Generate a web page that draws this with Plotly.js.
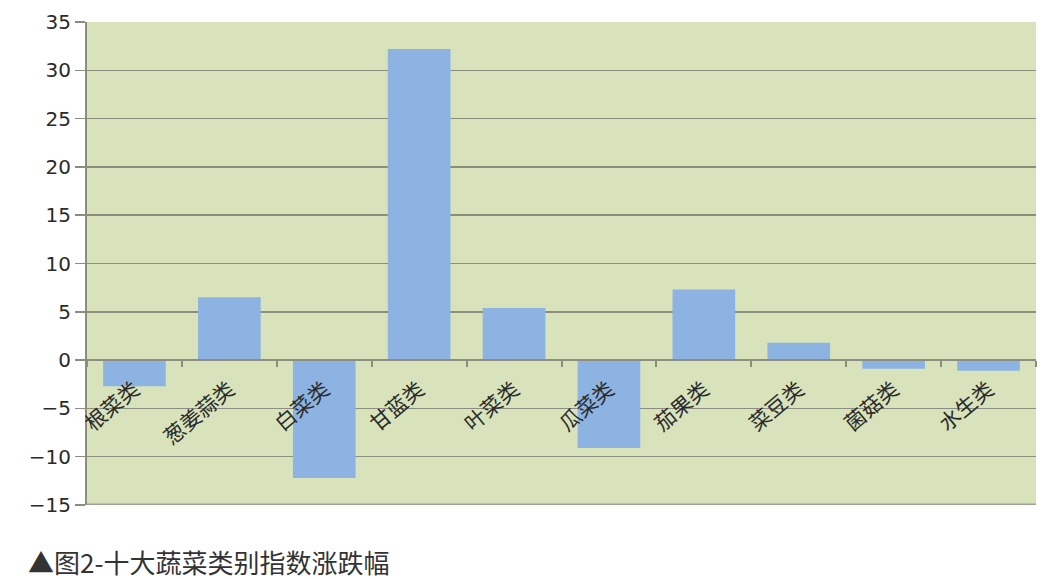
<!DOCTYPE html>
<html>
<head>
<meta charset="utf-8">
<script src="https://cdn.plot.ly/plotly-3.0.1.min.js"></script>
<style>html,body{margin:0;padding:0;background:#fff;}#chart{width:1045px;height:579px;}</style>
</head>
<body>
<div id="chart"></div>
<script>
const categories = ["根菜类", "葱姜蒜类", "白菜类", "甘蓝类", "叶菜类", "瓜菜类", "茄果类", "菜豆类", "菌菇类", "水生类"];
const changeValues = [-2.7, 6.5, -12.2, 32.2, 5.4, -9.1, 7.3, 1.8, -0.9, -1.1];
const yTickValues = [-15, -10, -5, 0, 5, 10, 15, 20, 25, 30, 35];
const yTickLabels = ["−15", "−10", "−5", "0", "5", "10", "15", "20", "25", "30", "35"];
const captionText = "▲图2-十大蔬菜类别指数涨跌幅";

const trace = {
  type: "bar",
  x: categories,
  y: changeValues,
  marker: { color: "#8db3e2", line: { width: 0 } },
  hoverinfo: "x+y"
};

const layout = {
  width: 1045,
  height: 579,
  margin: { l: 87, r: 9, t: 22, b: 74 },
  paper_bgcolor: "#ffffff",
  plot_bgcolor: "#d8e3bc",
  showlegend: false,
  bargap: 0.34,
  font: { family: "DejaVu Sans, sans-serif", color: "#222" },
  xaxis: {
    type: "category",
    anchor: "free",
    position: 0.3,
    showline: true,
    linecolor: "#8c8c80",
    linewidth: 2,
    showgrid: false,
    zeroline: false,
    ticks: "outside",
    tickson: "boundaries",
    ticklen: 6,
    tickcolor: "#8c8c80",
    tickwidth: 2,
    tickangle: -40,
    tickfont: { family: "Noto Sans CJK SC, sans-serif", size: 21, color: "#2a2a2a" },
    ticklabelstandoff: 8
  },
  yaxis: {
    range: [-15, 35],
    tickmode: "array",
    tickvals: yTickValues,
    ticktext: yTickLabels,
    showline: true,
    linecolor: "#8c8c80",
    linewidth: 2,
    showgrid: true,
    gridcolor: "#8c8c80",
    gridwidth: 1.5,
    zeroline: false,
    ticks: "outside",
    ticklen: 10,
    tickcolor: "#8c8c80",
    tickwidth: 1.5,
    tickfont: { family: "DejaVu Sans, sans-serif", size: 20, color: "#2a2a2a" },
    fixedrange: true
  },
  shapes: [
    { type: "line", xref: "paper", yref: "y", x0: 0, x1: 1, y0: -15, y1: -15,
      line: { color: "#a09f95", width: 3 } }
  ],
  annotations: [
    { text: captionText, xref: "paper", yref: "paper", x: -0.064, y: -0.116,
      xanchor: "left", yanchor: "middle", showarrow: false,
      font: { family: "Noto Sans CJK SC, sans-serif", size: 26, color: "#333" } }
  ]
};

Plotly.newPlot("chart", [trace], layout, { displayModeBar: false, staticPlot: true });
</script>
</body>
</html>
